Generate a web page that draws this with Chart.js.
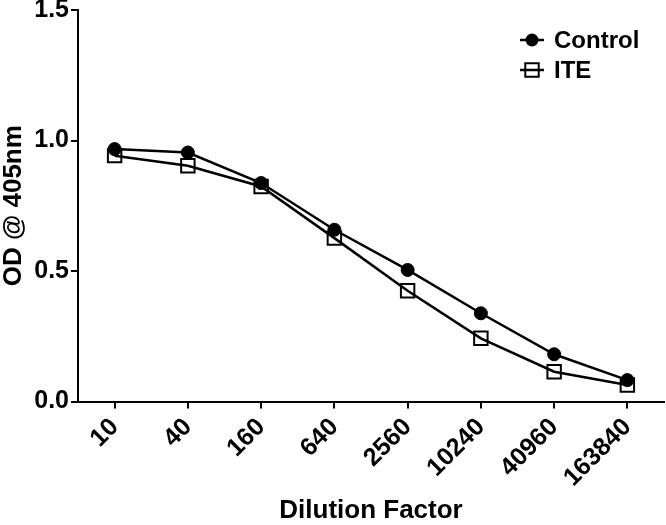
<!DOCTYPE html>
<html>
<head>
<meta charset="utf-8">
<script src="https://cdn.jsdelivr.net/npm/chart.js@4.4.1/dist/chart.umd.min.js"></script>
<style>
  html, body { margin: 0; padding: 0; background: #fff; }
  #wrap { width: 666px; height: 525px; }
</style>
</head>
<body>
<div id="wrap"><canvas id="odChart" width="666" height="525"></canvas></div>
<script>
const dilutions = ['10', '40', '160', '640', '2560', '10240', '40960', '163840'];
const controlOD = [0.967, 0.954, 0.837, 0.658, 0.504, 0.338, 0.181, 0.082];
const iteOD = [0.942, 0.903, 0.824, 0.626, 0.424, 0.242, 0.114, 0.063];
const yTicks = [0, 0.5, 1.0, 1.5];

Chart.defaults.font.family = "'Liberation Sans', Arial, sans-serif";
Chart.defaults.font.weight = 'bold';
Chart.defaults.color = '#000';

// legend drawn as line + marker, like the original figure
const lineLegend = {
  id: 'lineLegend',
  afterDraw(chart) {
    const ctx = chart.ctx;
    ctx.save();
    chart.data.datasets.forEach((ds, i) => {
      const y = 40 + i * 30;
      const cx = 532;
      ctx.strokeStyle = '#000';
      ctx.lineWidth = ds.borderWidth;
      ctx.beginPath();
      ctx.moveTo(520, y);
      ctx.lineTo(544, y);
      ctx.stroke();
      ctx.beginPath();
      if (ds.pointStyle === 'circle') {
        ctx.fillStyle = '#000';
        ctx.arc(cx, y, ds.pointRadius, 0, Math.PI * 2);
        ctx.fill();
      } else {
        const s = ds.pointRadius * Math.SQRT1_2;
        ctx.lineWidth = ds.pointBorderWidth;
        ctx.rect(cx - s, y - s, 2 * s, 2 * s);
        ctx.stroke();
      }
      ctx.fillStyle = '#000';
      ctx.font = "bold 24px 'Liberation Sans', Arial, sans-serif";
      ctx.textBaseline = 'middle';
      ctx.textAlign = 'left';
      ctx.fillText(ds.label, 554, y + 1);
    });
    ctx.restore();
  }
};

new Chart(document.getElementById('odChart'), {
  type: 'line',
  data: {
    labels: dilutions,
    datasets: [
      {
        label: 'Control',
        data: controlOD,
        borderColor: '#000',
        borderWidth: 2.5,
        pointStyle: 'circle',
        pointRadius: 6.5,
        pointBackgroundColor: '#000',
        pointBorderColor: '#000',
        pointBorderWidth: 1,
        tension: 0
      },
      {
        label: 'ITE',
        data: iteOD,
        borderColor: '#000',
        borderWidth: 2.5,
        pointStyle: 'rect',
        pointRadius: 9.5,
        pointBackgroundColor: 'rgba(0,0,0,0)',
        pointBorderColor: '#000',
        pointBorderWidth: 2,
        tension: 0
      }
    ]
  },
  options: {
    responsive: false,
    animation: false,
    layout: { autoPadding: false, padding: { top: 10, right: 2, left: 0, bottom: 0 } },
    plugins: {
      legend: { display: false },
      tooltip: { enabled: false }
    },
    scales: {
      x: {
        type: 'category',
        offset: true,
        grid: { display: true, offset: false, drawOnChartArea: false, drawTicks: true, tickLength: 7, color: '#000', lineWidth: 2 },
        border: { display: true, color: '#000', width: 2 },
        ticks: {
          autoSkip: false, maxRotation: 45, minRotation: 45, padding: 4,
          font: { size: 25, weight: 'bold' }, color: '#000'
        },
        title: {
          display: true, text: 'Dilution Factor', color: '#000',
          font: { size: 26, weight: 'bold', lineHeight: 1.0 }, padding: { top: 0, bottom: 1 }
        },
        afterFit(scale) {
          scale.height = 123.5;
          scale.paddingLeft = 0;
          scale.paddingRight = 0;
        }
      },
      y: {
        min: 0, max: 1.5,
        afterBuildTicks(scale) {
          scale.ticks = yTicks.map(v => ({ value: v }));
        },
        grid: { display: true, drawOnChartArea: false, drawTicks: true, tickLength: 7, color: '#000', lineWidth: 2 },
        border: { display: true, color: '#000', width: 2 },
        ticks: {
          padding: 2, font: { size: 25, weight: 'bold' }, color: '#000',
          callback: v => v.toFixed(1)
        },
        title: {
          display: true, text: 'OD @ 405nm', color: '#000',
          font: { size: 26, weight: 'bold', lineHeight: 1.1 }, padding: { top: 0, bottom: 0 }
        },
        afterFit(scale) {
          scale.width = 78;
          scale.paddingTop = 0;
          scale.paddingBottom = 0;
        }
      }
    }
  },
  plugins: [lineLegend]
});
</script>
</body>
</html>
